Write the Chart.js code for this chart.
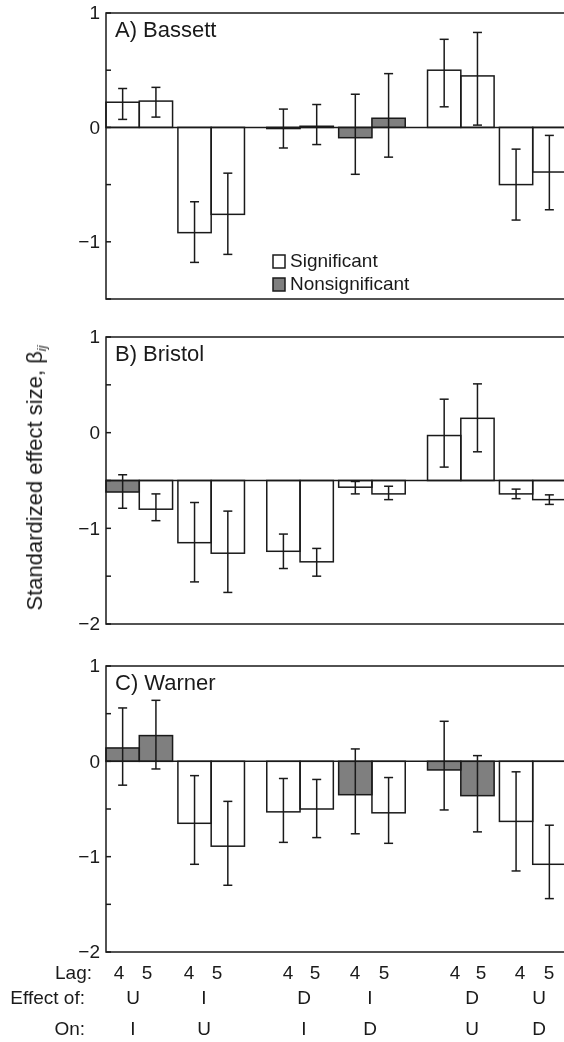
<!DOCTYPE html>
<html>
<head>
<meta charset="utf-8">
<script src="https://cdn.jsdelivr.net/npm/chart.js@4/dist/chart.umd.min.js"></script>
<style>
html, body { margin: 0; padding: 0; background: #fff; }
body { width: 564px; height: 1042px; overflow: hidden; position: relative;
       font-family: "Liberation Sans", Arial, sans-serif; color: #1a1a1a; }
canvas { position: absolute; left: 0; }
.t { position: absolute; font-size: 19px; line-height: 1; white-space: nowrap; transform: translate(-50%, -50%); }
.r { position: absolute; font-size: 19px; line-height: 1; white-space: nowrap; transform: translate(-100%, -50%); }
#ytitle { position: absolute; left: 36px; top: 478px; font-size: 22px; line-height: 1; white-space: nowrap;
          transform: translate(-50%, -50%) rotate(-90deg); }
#ytitle sub { font-size: 13px; font-style: italic; vertical-align: -4px; }
</style>
</head>
<body>
<canvas id="bassett" width="570" height="310" style="top:0px"></canvas>
<canvas id="bristol" width="570" height="310" style="top:324px"></canvas>
<canvas id="warner" width="570" height="310" style="top:653px"></canvas>
<div id="ytitle">Standardized effect size, β<sub>ij</sub></div>
<div id="rows"></div>
<script>
// --- data ---
const lags = ['4','5','4','5','4','5','4','5','4','5','4','5'];
const effectOf = ['U','I','D','I','D','U'];
const effectOn = ['I','U','I','D','U','D'];

const bassettBeta = [0.22, 0.23, -0.92, -0.76, -0.01, 0.01, -0.09, 0.08, 0.50, 0.45, -0.50, -0.39];
const bassettLo   = [0.07, 0.09, -1.18, -1.11, -0.18, -0.15, -0.41, -0.26, 0.18, 0.02, -0.81, -0.72];
const bassettHi   = [0.34, 0.35, -0.65, -0.40, 0.16, 0.20, 0.29, 0.47, 0.77, 0.83, -0.19, -0.07];
const bassettSig  = [1, 1, 1, 1, 0, 0, 0, 0, 1, 1, 1, 1];

const bristolBeta = [-0.62, -0.80, -1.15, -1.26, -1.24, -1.35, -0.57, -0.64, -0.03, 0.15, -0.64, -0.70];
const bristolLo   = [-0.79, -0.92, -1.56, -1.67, -1.42, -1.50, -0.64, -0.70, -0.36, -0.20, -0.69, -0.75];
const bristolHi   = [-0.44, -0.64, -0.73, -0.82, -1.06, -1.21, -0.51, -0.56, 0.35, 0.51, -0.59, -0.65];
const bristolSig  = [0, 1, 1, 1, 1, 1, 1, 1, 1, 1, 1, 1];

const warnerBeta = [0.14, 0.27, -0.65, -0.89, -0.53, -0.50, -0.35, -0.54, -0.09, -0.36, -0.63, -1.08];
const warnerLo   = [-0.25, -0.08, -1.08, -1.30, -0.85, -0.80, -0.76, -0.86, -0.51, -0.74, -1.15, -1.44];
const warnerHi   = [0.56, 0.64, -0.15, -0.42, -0.18, -0.19, 0.13, -0.17, 0.42, 0.06, -0.11, -0.67];
const warnerSig  = [0, 0, 1, 1, 1, 1, 0, 1, 0, 0, 1, 1];

// --- layout / style ---
const INK = '#1a1a1a';
const GRAY = '#7f7f7f';
const FONT = '"Liberation Sans", Arial, sans-serif';
const PAIR_GAP = 0.16, GROUP_GAP = 0.67;   // gaps in bar widths
const barX = lags.map((_, i) => {
  const pair = Math.floor(i / 2), grp = Math.floor(i / 4);
  return i + 0.5 + (pair - grp) * PAIR_GAP + grp * GROUP_GAP;
});
const X_MAX = barX[barX.length - 1] + 0.5;

const fmtTick = v => v < 0 ? '\u2212' + Math.abs(v) : String(v);

function panelPlugin(cfg) {
  return {
    id: 'panel',
    afterDatasetsDraw(chart) {
      const {ctx, chartArea: a, scales: {x, y}} = chart;
      const seg = (x1, y1, x2, y2) => { ctx.beginPath(); ctx.moveTo(x1, y1); ctx.lineTo(x2, y2); ctx.stroke(); };
      ctx.save();
      ctx.strokeStyle = INK;
      ctx.lineWidth = 1.5;
      // bar outlines
      chart.getDatasetMeta(0).data.forEach(el => {
        const p = el.getProps(['x', 'y', 'base', 'width'], true);
        ctx.strokeRect(p.x - p.width / 2, Math.min(p.y, p.base), p.width, Math.abs(p.base - p.y));
      });
      // base line
      const by = y.getPixelForValue(cfg.base ?? 0);
      seg(a.left, by, a.right, by);
      // error bars
      cfg.lo.forEach((lo, i) => {
        const cx = x.getPixelForValue(barX[i]);
        const y1 = y.getPixelForValue(lo), y2 = y.getPixelForValue(cfg.hi[i]);
        seg(cx, y1, cx, y2);
        seg(cx - 4.5, y1, cx + 4.5, y1);
        seg(cx - 4.5, y2, cx + 4.5, y2);
      });
      // frame + inward ticks + integer labels
      ctx.strokeRect(a.left, a.top, a.right - a.left, a.bottom - a.top);
      ctx.fillStyle = INK;
      ctx.font = '19px ' + FONT;
      ctx.textAlign = 'right';
      ctx.textBaseline = 'middle';
      y.ticks.forEach(t => {
        const ty = y.getPixelForValue(t.value);
        seg(a.left, ty, a.left + 5, ty);
        if (Number.isInteger(t.value)) ctx.fillText(fmtTick(t.value), a.left - 6, ty + 1);
      });
      // panel title
      ctx.textAlign = 'left';
      ctx.font = '22px ' + FONT;
      ctx.textBaseline = 'alphabetic';
      ctx.fillText(cfg.title, a.left + 9, a.top + 24);
      // legend
      if (cfg.legend) {
        ctx.font = '19px ' + FONT;
        ctx.textBaseline = 'middle';
        [['Significant', '#fff'], ['Nonsignificant', GRAY]].forEach(([txt, col], k) => {
          const lx = a.left + 167, ly = a.top + 242 + k * 23;
          ctx.fillStyle = col;
          ctx.fillRect(lx, ly, 12, 13);
          ctx.strokeRect(lx, ly, 12, 13);
          ctx.fillStyle = INK;
          ctx.fillText(txt, lx + 17, ly + 7);
        });
      }
      ctx.restore();
    }
  };
}

function makePanel(id, cfg) {
  new Chart(document.getElementById(id), {
    type: 'bar',
    data: {
      datasets: [{
        data: barX.map((x, i) => ({x, y: cfg.beta[i]})),
        backgroundColor: cfg.sig.map(s => s ? '#fff' : GRAY),
        borderWidth: 0,
        base: cfg.base,
        barPercentage: 1,
        categoryPercentage: 1
      }]
    },
    options: {
      responsive: false,
      animation: false,
      layout: {padding: {top: cfg.padTop, bottom: cfg.padBottom, left: 0, right: 4}},
      plugins: {legend: {display: false}, tooltip: {enabled: false}},
      scales: {
        x: {type: 'linear', display: false, offset: false, min: 0, max: X_MAX, ticks: {stepSize: 100}},
        y: {
          min: cfg.min, max: 1,
          afterFit: s => { s.width = 106; },
          grid: {display: false, drawTicks: false},
          border: {display: false},
          ticks: {display: false, stepSize: 0.5}
        }
      }
    },
    plugins: [panelPlugin(cfg)]
  });
}

makePanel('bassett', {title: 'A) Bassett', beta: bassettBeta, lo: bassettLo, hi: bassettHi, sig: bassettSig,
  min: -1.5, padTop: 13, padBottom: 11, legend: true});
makePanel('bristol', {title: 'B) Bristol', beta: bristolBeta, lo: bristolLo, hi: bristolHi, sig: bristolSig,
  min: -2, base: -0.5, padTop: 13, padBottom: 10});
makePanel('warner', {title: 'C) Warner', beta: warnerBeta, lo: warnerLo, hi: warnerHi, sig: warnerSig,
  min: -2, padTop: 13, padBottom: 11});

const LAG_PX = [119, 147, 189, 217, 288, 315, 355, 384, 455, 481, 520, 549];
const PAIR_PX = [133, 204, 304, 370, 472, 539];
const ROW_Y = [972, 997, 1028];
const rows = document.getElementById('rows');
function put(cls, txt, x, y) {
  const d = document.createElement('div');
  d.className = cls; d.textContent = txt;
  d.style.left = x + 'px'; d.style.top = y + 'px';
  rows.appendChild(d);
}
put('r', 'Lag:', 92, ROW_Y[0]);
put('r', 'Effect of:', 85, ROW_Y[1]);
put('r', 'On:', 85, ROW_Y[2]);
lags.forEach((l, i) => put('t', l, LAG_PX[i], ROW_Y[0]));
effectOf.forEach((l, i) => put('t', l, PAIR_PX[i], ROW_Y[1]));
effectOn.forEach((l, i) => put('t', l, PAIR_PX[i], ROW_Y[2]));
</script>
</body>
</html>
